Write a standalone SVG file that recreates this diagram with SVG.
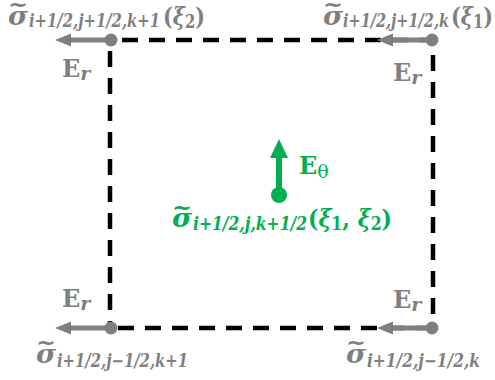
<svg xmlns="http://www.w3.org/2000/svg" width="495" height="380" viewBox="0 0 495 380">
<style>
.edge{stroke:#000;stroke-width:4.5;stroke-dasharray:16 11;fill:none}
.g{fill:#7f7f7f}
.gl{stroke:#7f7f7f;stroke-width:5;fill:none}
.gr{fill:#00b050}
.grl{stroke:#00b050;stroke-width:6;fill:none}
text{font-family:"DejaVu Serif","Liberation Serif",serif;font-weight:bold}
.bi{font-style:italic}
.up{font-style:normal}
</style>
<rect width="495" height="380" fill="#fff"/>
<g id="connectors">
<line class="edge" x1="122" y1="40" x2="432" y2="40"/>
<line class="edge" x1="110" y1="51" x2="110" y2="328"/>
<line class="edge" x1="433" y1="55" x2="433" y2="328"/>
<line class="edge" x1="118" y1="328" x2="432" y2="328"/>
</g>
<g id="node-tl">
<line class="gl" x1="111" y1="40" x2="68" y2="40"/>
<polygon class="g" points="55,40 71,33.5 71,46.5"/>
<circle class="g" cx="111" cy="40" r="6.5"/>
<text class="g" x="8" y="12" font-size="22" textLength="20" lengthAdjust="spacingAndGlyphs">~</text>
<text class="g bi" x="8" y="25" font-size="26" textLength="20" lengthAdjust="spacingAndGlyphs">σ</text>
<text class="g bi" x="29" y="27" font-size="18" textLength="131" lengthAdjust="spacingAndGlyphs">i+1/2,j+1/2,k+1</text>
<text class="g" x="163" y="25" font-size="25" textLength="42" lengthAdjust="spacingAndGlyphs"><tspan class="up">(</tspan><tspan class="bi">ξ</tspan><tspan class="up" font-size="18" dy="3">2</tspan><tspan class="up" dy="-3">)</tspan></text>
<text class="g" x="62" y="77"><tspan font-size="24">E</tspan><tspan class="bi" font-size="19" dy="3">r</tspan></text>
</g>
<g id="node-tr">
<line class="gl" x1="432" y1="40" x2="390" y2="40"/>
<polygon class="g" points="377,40 393,33.5 393,46.5"/>
<circle class="g" cx="432" cy="40" r="6.5"/>
<text class="g" x="323" y="12" font-size="22" textLength="20" lengthAdjust="spacingAndGlyphs">~</text>
<text class="g bi" x="323" y="25" font-size="26" textLength="20" lengthAdjust="spacingAndGlyphs">σ</text>
<text class="g bi" x="343" y="27" font-size="18" textLength="106" lengthAdjust="spacingAndGlyphs">i+1/2,j+1/2,k</text>
<text class="g" x="451" y="25" font-size="25" textLength="42" lengthAdjust="spacingAndGlyphs"><tspan class="up">(</tspan><tspan class="bi">ξ</tspan><tspan class="up" font-size="18" dy="3">1</tspan><tspan class="up" dy="-3">)</tspan></text>
<text class="g" x="393" y="81"><tspan font-size="24">E</tspan><tspan class="bi" font-size="19" dy="3">r</tspan></text>
</g>
<g id="node-bl">
<line class="gl" x1="111" y1="328" x2="68" y2="328"/>
<polygon class="g" points="55,328 71,321.5 71,334.5"/>
<circle class="g" cx="111" cy="328" r="6.5"/>
<text class="g" x="36" y="350" font-size="22" textLength="20" lengthAdjust="spacingAndGlyphs">~</text>
<text class="g bi" x="36" y="363" font-size="26" textLength="20" lengthAdjust="spacingAndGlyphs">σ</text>
<text class="g bi" x="57" y="367" font-size="18" textLength="131" lengthAdjust="spacingAndGlyphs">i+1/2,j−1/2,k+1</text>
<text class="g" x="62" y="307"><tspan font-size="24">E</tspan><tspan class="bi" font-size="19" dy="3">r</tspan></text>
</g>
<g id="node-br">
<line class="gl" x1="432" y1="328" x2="390" y2="328"/>
<polygon class="g" points="377,328 393,321.5 393,334.5"/>
<circle class="g" cx="432" cy="328" r="6.5"/>
<text class="g" x="346" y="350" font-size="22" textLength="20" lengthAdjust="spacingAndGlyphs">~</text>
<text class="g bi" x="346" y="363" font-size="26" textLength="20" lengthAdjust="spacingAndGlyphs">σ</text>
<text class="g bi" x="367" y="367" font-size="18" textLength="113" lengthAdjust="spacingAndGlyphs">i+1/2,j−1/2,k</text>
<text class="g" x="393" y="308"><tspan font-size="24">E</tspan><tspan class="bi" font-size="19" dy="3">r</tspan></text>
</g>
<g id="node-center">
<line class="grl" x1="279" y1="195" x2="279" y2="154"/>
<polygon class="gr" points="279,139 270,158 288,158"/>
<circle class="gr" cx="279" cy="195" r="8"/>
<text class="gr" x="299" y="174"><tspan font-size="24">E</tspan><tspan class="up" font-weight="normal" font-size="19" dy="4">θ</tspan></text>
<text class="gr" x="172" y="215" font-size="22" textLength="20" lengthAdjust="spacingAndGlyphs">~</text>
<text class="gr bi" x="172" y="227" font-size="26" textLength="20" lengthAdjust="spacingAndGlyphs">σ</text>
<text class="gr bi" x="193" y="230" font-size="18" textLength="114" lengthAdjust="spacingAndGlyphs">i+1/2,j,k+1/2</text>
<text class="gr" x="308" y="227" font-size="25" textLength="84" lengthAdjust="spacingAndGlyphs"><tspan class="up">(</tspan><tspan class="bi">ξ</tspan><tspan class="up" font-size="18" dy="3">1</tspan><tspan class="up" dy="-3">, </tspan><tspan class="bi">ξ</tspan><tspan class="up" font-size="18" dy="3">2</tspan><tspan class="up" dy="-3">)</tspan></text>
</g>
</svg>
